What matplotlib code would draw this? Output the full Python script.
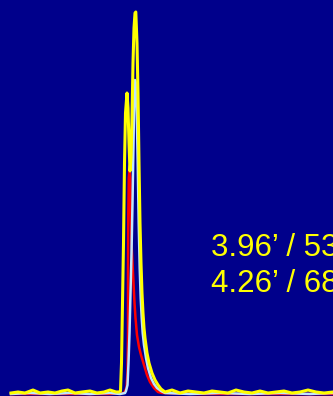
import matplotlib
matplotlib.use("Agg")
import matplotlib.pyplot as plt

# chromatogram traces: x position (scan) and signal height
yellow_x = [11, 18, 25, 33, 40, 48, 55, 62, 68, 75, 82, 90, 97, 104, 110, 116, 119, 120.5,
            121.5, 122.5, 123.5, 124.5, 125.5, 127, 128, 129, 130, 131, 132, 133, 134, 135,
            135.8, 137, 138, 139, 140, 141, 142, 143, 144, 145, 147, 149, 152, 155, 158, 161,
            165, 172, 180, 188, 196, 204, 212, 220, 228, 236, 244, 252, 260, 268, 276, 284,
            292, 300, 308, 316, 324, 333]
yellow_y = [0, 1, 0, 3, 0, 1, 0, 2, 3, 0, 1, 2, 0, 1, 3, 1, 1, 2,
            30, 90, 150, 230, 280, 300, 285, 250, 222, 235, 275, 330, 365, 380,
            381, 350, 300, 230, 170, 130, 100, 80, 65, 55, 40, 30, 20, 13, 8, 4,
            1, 3, 0, 2, 1, 0, 2, 1, 0, 3, 1, 0, 2, 0, 1, 2, 0, 1, 3, 1, 0, 1]

cyan_x = [11, 30, 50, 70, 90, 110, 120, 125, 126, 127.5, 128.5, 129.5, 130.5, 131.5, 132.5,
          133.5, 134.3, 135, 135.8, 136.8, 137.7, 138.7, 139.7, 140.7, 141.7, 142.7, 144,
          146, 148, 151, 154, 157, 161, 165, 190, 220, 250, 280, 310, 333]
cyan_y = [-1, 0, -1, 0, -1, 0, -1, 0, 2, 8, 30, 60, 100, 140, 190,
          250, 300, 313, 310, 280, 230, 170, 125, 95, 75, 60, 48,
          35, 25, 15, 9, 5, 2, 0, -1, 0, -1, 0, -1, 0]

red_x = [11, 40, 80, 110, 124, 126.5, 127.5, 128, 128, 128.3, 128.8, 129.5, 130.3, 130.8,
         131.5, 132.5, 133.5, 134.5, 135.5, 137, 139, 141, 144, 147, 150, 154, 158, 162,
         200, 260, 333]
red_y = [-1, -1, -1, -1, 0, 5, 20, 60, 120, 180, 215, 223, 215, 180,
         150, 130, 110, 90, 75, 58, 46, 38, 28, 18, 11, 5, 1, 0,
         -1, -1, -1]

labels = ["3.96\u2019 / 53", "4.26\u2019 / 68"]

fig = plt.figure(figsize=(3.33, 3.96), dpi=100)
fig.patch.set_facecolor("#00008B")
ax = fig.add_axes([0, 0, 1, 1])
ax.set_facecolor("#00008B")

ax.plot(red_x, red_y, color="#FF0000", lw=1.8, solid_joinstyle="round")
ax.plot(cyan_x, cyan_y, color="#BFE6FF", lw=1.8, solid_joinstyle="round")
ax.plot(yellow_x, yellow_y, color="#FFFF00", lw=2.2, solid_joinstyle="round")

ax.text(211, 137, labels[0], color="#FFFF00", fontsize=22.5,
        family="Liberation Sans", va="baseline", ha="left")
ax.text(211, 101, labels[1], color="#FFFF00", fontsize=22.5,
        family="Liberation Sans", va="baseline", ha="left")

ax.set_xlim(0, 333)
ax.set_ylim(-3, 393)
ax.axis("off")

fig.savefig("out.png", dpi=100, facecolor=fig.get_facecolor())
